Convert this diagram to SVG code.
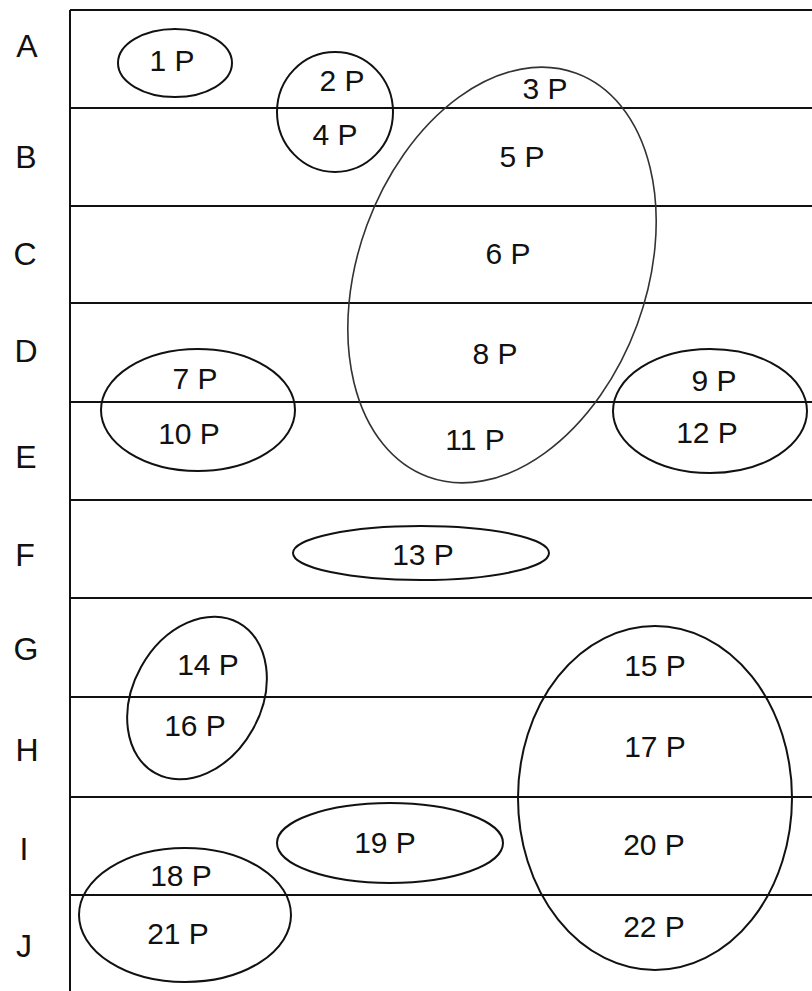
<svg xmlns="http://www.w3.org/2000/svg" width="812" height="991" viewBox="0 0 812 991">
  <style>
    .grid { stroke: #111; stroke-width: 2; fill: none; }
    .zone { stroke: #111; stroke-width: 2; fill: none; }
    .zone.thin { stroke: #333; stroke-width: 1.6; }
    .row { font-family: "Liberation Sans", Arial, sans-serif; font-size: 32px; fill: #111; text-anchor: middle; }
    .lbl { font-family: "Liberation Sans", Arial, sans-serif; font-size: 30px; fill: #111; text-anchor: middle; }
  </style>
  <rect width="812" height="991" fill="#fff"/>

  <!-- frame and row dividers -->
  <g id="grid" class="grid">
    <line x1="70" y1="10" x2="70" y2="991"/>
    <line x1="70" y1="10" x2="812" y2="10"/>
    <line x1="70" y1="108" x2="812" y2="108"/>
    <line x1="70" y1="206" x2="812" y2="206"/>
    <line x1="70" y1="303" x2="812" y2="303"/>
    <line x1="70" y1="402" x2="812" y2="402"/>
    <line x1="70" y1="500" x2="812" y2="500"/>
    <line x1="70" y1="598" x2="812" y2="598"/>
    <line x1="70" y1="697" x2="812" y2="697"/>
    <line x1="70" y1="797" x2="812" y2="797"/>
    <line x1="70" y1="895" x2="812" y2="895"/>
  </g>

  <!-- row letters -->
  <g id="rows" class="row">
    <text x="27" y="57">A</text>
    <text x="26" y="168">B</text>
    <text x="25" y="265">C</text>
    <text x="26" y="362">D</text>
    <text x="26" y="468">E</text>
    <text x="25" y="566">F</text>
    <text x="26" y="660">G</text>
    <text x="27" y="761">H</text>
    <text x="24" y="860">I</text>
    <text x="24" y="957">J</text>
  </g>

  <g id="zone-1">
    <ellipse class="zone" cx="175" cy="63" rx="57" ry="34"/>
    <text class="lbl" x="172" y="71">1 P</text>
  </g>

  <g id="zone-2-4">
    <ellipse class="zone" cx="335" cy="112" rx="58" ry="60"/>
    <text class="lbl" x="342" y="91">2 P</text>
    <text class="lbl" x="335" y="145">4 P</text>
  </g>

  <g id="zone-3-11">
    <ellipse class="zone thin" cx="502" cy="275" rx="144" ry="215" transform="rotate(20.2 502 275)"/>
    <text class="lbl" x="545" y="99">3 P</text>
    <text class="lbl" x="522" y="167">5 P</text>
    <text class="lbl" x="508" y="264">6 P</text>
    <text class="lbl" x="495" y="364">8 P</text>
    <text class="lbl" x="475" y="450">11 P</text>
  </g>

  <g id="zone-7-10">
    <ellipse class="zone" cx="198" cy="410" rx="97" ry="61"/>
    <text class="lbl" x="195" y="389">7 P</text>
    <text class="lbl" x="189" y="444">10 P</text>
  </g>

  <g id="zone-9-12">
    <ellipse class="zone" cx="710" cy="411" rx="97" ry="62"/>
    <text class="lbl" x="714" y="391">9 P</text>
    <text class="lbl" x="707" y="443">12 P</text>
  </g>

  <g id="zone-13">
    <ellipse class="zone" cx="421" cy="553" rx="128" ry="27"/>
    <text class="lbl" x="423" y="565">13 P</text>
  </g>

  <g id="zone-14-16">
    <ellipse class="zone" cx="197" cy="698" rx="64" ry="86" transform="rotate(29 197 698)"/>
    <text class="lbl" x="208" y="675">14 P</text>
    <text class="lbl" x="195" y="736">16 P</text>
  </g>

  <g id="zone-15-22">
    <ellipse class="zone" cx="655" cy="798" rx="137" ry="172"/>
    <text class="lbl" x="655" y="676">15 P</text>
    <text class="lbl" x="655" y="757">17 P</text>
    <text class="lbl" x="654" y="855">20 P</text>
    <text class="lbl" x="654" y="937">22 P</text>
  </g>

  <g id="zone-19">
    <ellipse class="zone" cx="390" cy="843" rx="113" ry="40"/>
    <text class="lbl" x="385" y="853">19 P</text>
  </g>

  <g id="zone-18-21">
    <ellipse class="zone" cx="185" cy="915" rx="106" ry="67"/>
    <text class="lbl" x="181" y="886">18 P</text>
    <text class="lbl" x="178" y="944">21 P</text>
  </g>
</svg>
